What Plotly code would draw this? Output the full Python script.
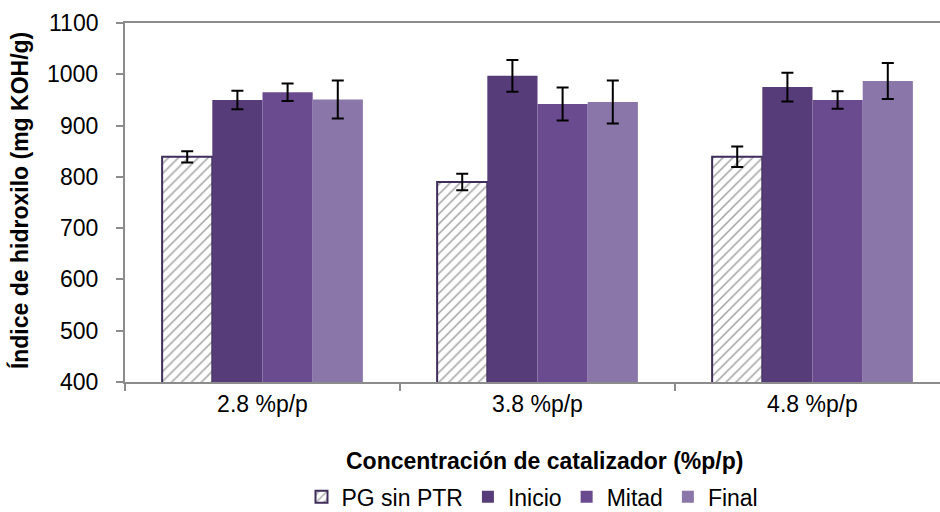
import plotly.graph_objects as go

categories = ["2.8 %p/p", "3.8 %p/p", "4.8 %p/p"]
series_names = ["PG sin PTR", "Inicio", "Mitad", "Final"]
pg_vals = [839, 790, 839]
pg_err = [11, 16, 20]
inicio_vals = [950, 997, 975]
inicio_err = [18, 31, 28]
mitad_vals = [965, 942, 950]
mitad_err = [17, 32, 17]
final_vals = [951, 946, 987]
final_err = [37, 42, 35]
y_ticks = [400, 500, 600, 700, 800, 900, 1000, 1100]

FONT = "Liberation Sans"
fig = go.Figure()

fig.add_trace(go.Bar(
    name=series_names[0], x=categories, y=pg_vals,
    error_y=dict(type="data", array=pg_err, color="black", thickness=2, width=6),
    marker=dict(color="white", line=dict(color="#3f2d5a", width=2),
                pattern=dict(shape="/", fgcolor="#444444", bgcolor="white", size=7, solidity=0.22)),
))
colors = ["#563c78", "#6b4b8f", "#8a76a8"]
for name, vals, err, c in [(series_names[1], inicio_vals, inicio_err, colors[0]),
                           (series_names[2], mitad_vals, mitad_err, colors[1]),
                           (series_names[3], final_vals, final_err, colors[2])]:
    fig.add_trace(go.Bar(
        name=name, x=categories, y=vals,
        error_y=dict(type="data", array=err, color="black", thickness=2, width=6),
        marker=dict(color=c, line=dict(width=0)),
    ))

annotations = [
    dict(text="<b>Concentración de catalizador (%p/p)</b>", xref="paper", yref="paper",
         x=0.515, y=-0.22, xanchor="center", yanchor="middle", showarrow=False,
         font=dict(size=23)),
    dict(text="<b>Índice de hidroxilo (mg KOH/g)</b>", xref="paper", yref="paper",
         x=-0.130, y=0.504, xanchor="center", yanchor="middle", textangle=-90,
         showarrow=False, font=dict(size=23)),
]
for v in y_ticks:
    annotations.append(dict(text=str(v), xref="paper", yref="y", x=-0.0307, y=v,
                            xanchor="right", yanchor="middle", showarrow=False,
                            font=dict(size=23)))

fig.update_layout(
    width=940, height=512,
    margin=dict(l=125, r=0, t=23, b=130, autoexpand=False),
    paper_bgcolor="white", plot_bgcolor="white",
    barmode="group", bargap=0.27, bargroupgap=0,
    font=dict(family=FONT, size=23, color="black"),
    showlegend=True,
    legend=dict(orientation="h", x=0.50, xanchor="center", y=-0.32, yanchor="middle",
                font=dict(size=23), itemwidth=30, traceorder="normal", tracegroupgap=0),
    xaxis=dict(range=[-0.5, 2.4636], showline=True, linecolor="#8c8c8c", linewidth=2,
               mirror=True, ticks="outside", tickson="boundaries", ticklen=7,
               tickcolor="#8c8c8c", tickwidth=2, showgrid=False, zeroline=False,
               tickfont=dict(size=23)),
    yaxis=dict(range=[400, 1100], tickvals=y_ticks, showticklabels=False,
               showline=True, linecolor="#8c8c8c", linewidth=2,
               ticks="outside", ticklen=7, tickcolor="#8c8c8c", tickwidth=2,
               showgrid=False, zeroline=False),
    annotations=annotations,
)

fig.write_html("out.html")
